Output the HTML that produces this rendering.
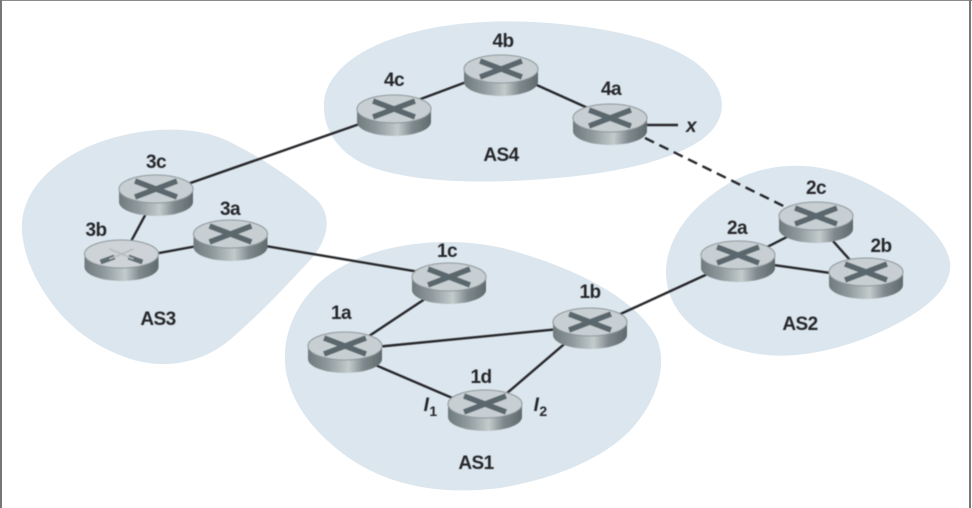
<!DOCTYPE html>
<html><head><meta charset="utf-8">
<style>
html,body{margin:0;padding:0;background:#fff;width:972px;height:508px;overflow:hidden}
svg{display:block}
text{font-family:"Liberation Sans",sans-serif;font-size:19px;font-weight:bold;fill:#26282b;text-anchor:middle;letter-spacing:-.6px}
.i{font-style:italic}
</style></head><body>
<svg width="972" height="508" viewBox="0 0 972 508" xmlns="http://www.w3.org/2000/svg">
<defs>
<filter id="soft" x="-5%" y="-5%" width="110%" height="110%"><feGaussianBlur stdDeviation="0.45"/></filter>
<linearGradient id="side" x1="0" x2="1" y1="0" y2="0">
<stop offset="0" stop-color="#6f7a7d"/><stop offset=".25" stop-color="#8d989b"/><stop offset=".55" stop-color="#c3cbcc"/><stop offset=".75" stop-color="#7f8a8d"/><stop offset="1" stop-color="#5f6a6d"/>
</linearGradient>
<g id="r">
<path d="M-37 0V13A37 14 0 0 0 37 13V0Z" fill="url(#side)"/>
<ellipse cx="0" cy="0" rx="37" ry="14" fill="#c8cfd3" stroke="#8b9599" stroke-width="1"/>
<g stroke="#5a686e" stroke-width="5.500" fill="none">
<path d="M-21 8L21 -8M-21 -8L21 8"/>
</g>
</g>
<g id="rf">
<path d="M-37 0V13A37 14 0 0 0 37 13V0Z" fill="url(#side)"/>
<ellipse cx="0" cy="0" rx="37" ry="14" fill="#cdd3d6" stroke="#8b9599" stroke-width="1"/>
<g stroke="#5f6d72" stroke-width="5" fill="none">
<path d="M-21 8L-7 3M21 8L7 3"/>
</g>
<path d="M-12 -5L12 5M-12 5L12 -5" stroke="#b4bcc0" stroke-width="1.5"/>
</g>
</defs>
<rect width="972" height="508" fill="#fff"/>
<!-- AS blobs -->
<g fill="#dbe6ee">
<path d="M324 102C326 76 352 52 395 38C440 22 500 18 560 24C625 30 685 46 709 75C729 98 726 124 698 142C665 163 610 174 545 179C480 184 420 182 380 170C345 160 322 135 324 102Z"/>
<path d="M22 232C20 200 40 170 85 148C130 128 190 122 230 142C262 158 292 178 315 198C332 214 330 236 312 258C288 284 262 312 232 338C205 362 165 372 125 357C88 344 62 320 46 295C32 274 24 254 22 232Z"/>
<path d="M666 272C666 240 690 204 735 180C775 160 820 162 860 180C900 198 945 232 950 262C953 288 925 312 880 332C840 350 790 362 748 352C700 342 666 312 666 272Z"/>
<path d="M285 362C283 325 305 285 345 265C390 240 460 236 510 250C560 264 625 290 652 330C670 356 660 395 635 425C610 455 560 478 500 488C445 495 395 487 355 462C315 436 287 400 285 362Z"/>
</g>
<g filter="url(#soft)">
<!-- Links -->
<g stroke="#26282b" stroke-width="2.400" fill="none">
<path d="M156 195L394 112"/>
<path d="M394 109L501 69L610 118"/>
<path d="M610 125H678"/>
<path d="M156 195L121 260L230 240"/>
<path d="M230 240L449 277"/>
<path d="M449 283L345 352"/>
<path d="M345 350L590 326"/>
<path d="M345 352L485 412L590 322"/>
<path d="M590 328L738 260"/>
<path d="M738 262L816 222L866 278L738 260"/>
<path d="M645 138L816 222" stroke-dasharray="10 6"/>
</g>
<!-- Routers -->
<use href="#r" x="156" y="189"/>
<use href="#rf" x="121.500" y="254"/>
<use href="#r" x="230.500" y="234"/>
<use href="#r" x="394" y="109"/>
<use href="#r" x="501" y="69"/>
<use href="#r" x="610" y="118"/>
<use href="#r" x="816" y="216"/>
<use href="#r" x="738" y="255"/>
<use href="#r" x="866" y="272"/>
<use href="#r" x="449" y="277"/>
<use href="#r" x="590" y="322"/>
<use href="#r" x="345" y="346"/>
<use href="#r" x="485" y="404"/>
<!-- Labels -->
<text x="156" y="168">3c</text>
<text x="96" y="236">3b</text>
<text x="230" y="215">3a</text>
<text x="394" y="86">4c</text>
<text x="503" y="47">4b</text>
<text x="611" y="95">4a</text>
<text x="816" y="194">2c</text>
<text x="737" y="234">2a</text>
<text x="881" y="252">2b</text>
<text x="447" y="257">1c</text>
<text x="590" y="298">1b</text>
<text x="341" y="319">1a</text>
<text x="481" y="383">1d</text>
<text x="501" y="161">AS4</text>
<text x="158" y="325">AS3</text>
<text x="800" y="330">AS2</text>
<text x="476" y="469">AS1</text>
<text x="691" y="132" class="i">x</text>
<text x="426" y="411" class="i">I</text><text x="433" y="416" style="font-size:14px">1</text>
<text x="536" y="411" class="i">I</text><text x="543" y="416" style="font-size:14px">2</text>
</g>
<!-- Frame -->
<rect x="0" y="0" width="972" height="1" fill="#8a8a8a"/>
<rect x="0" y="0" width="2" height="508" fill="#777"/>
<rect x="969" y="0" width="2" height="508" fill="#777"/>
</svg>
</body></html>
